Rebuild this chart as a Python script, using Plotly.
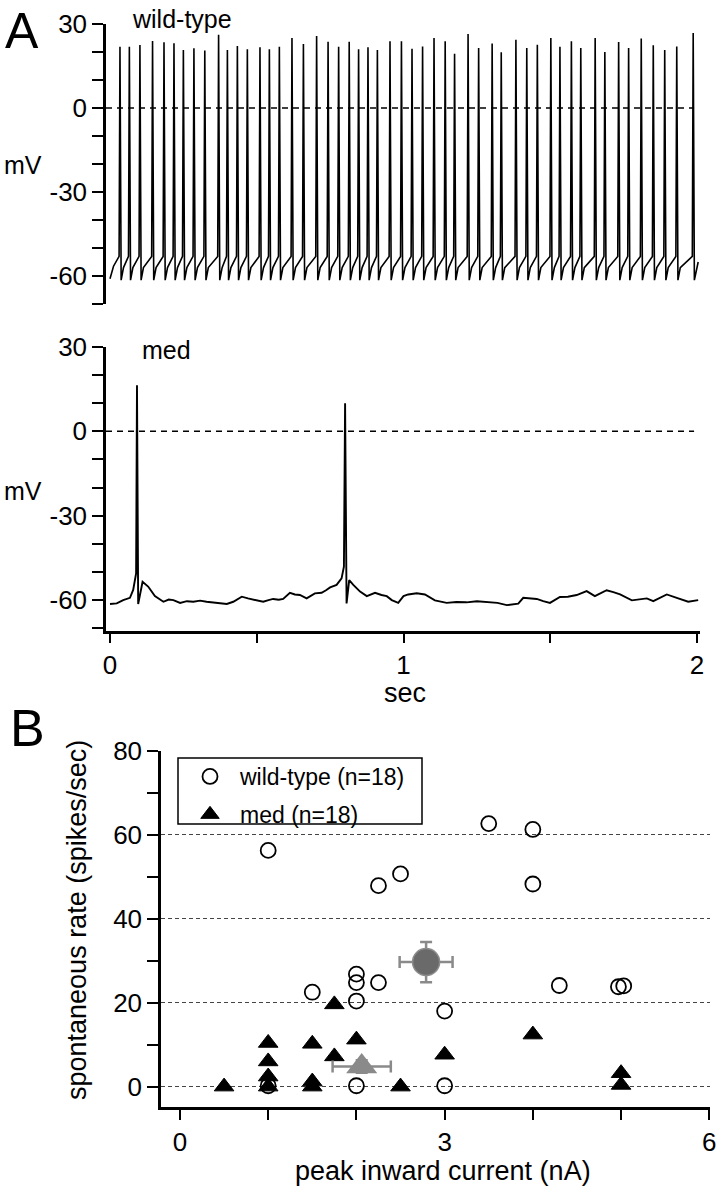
import plotly.graph_objects as go

# ---------------- Panel A: wild-type trace (spike times in s, peak mV) ----------------
wt_spike_t = [0.034, 0.066, 0.102, 0.145, 0.184, 0.218, 0.250, 0.286, 0.323, 0.370,
              0.400, 0.434, 0.468, 0.511, 0.543, 0.577, 0.620, 0.659, 0.704, 0.743,
              0.779, 0.815, 0.847, 0.879, 0.911, 0.954, 0.993, 1.029, 1.065, 1.104,
              1.142, 1.174, 1.220, 1.256, 1.302, 1.333, 1.383, 1.420, 1.456, 1.502,
              1.533, 1.572, 1.604, 1.653, 1.686, 1.733, 1.767, 1.810, 1.851, 1.890,
              1.931, 1.987]
wt_spike_peak = [21.9, 21.9, 22.5, 23.9, 23.5, 23.1, 20.7, 21.3, 20.5, 26.2,
                 20.7, 22.1, 21.0, 21.7, 21.0, 21.9, 25.0, 22.9, 25.7, 23.7,
                 21.9, 23.7, 21.0, 21.7, 20.7, 23.8, 23.8, 21.2, 22.0, 25.0,
                 23.8, 19.4, 26.4, 21.4, 23.0, 19.9, 24.4, 21.4, 22.6, 25.0,
                 21.9, 23.8, 21.4, 25.0, 20.0, 23.6, 21.4, 24.8, 22.4, 20.7,
                 22.0, 26.8]
wt_start = (0.0, -61.0)
wt_end = (2.004, -55.0)
wt_threshold_v = -53.0   # voltage just before a spike
wt_trough_v = -61.5      # after-hyperpolarisation minimum
wt_rebound_v = -57.0     # fast rebound after trough

# ---------------- Panel A: med trace (read point by point) ----------------
med_t = [0.000, 0.023, 0.045, 0.068, 0.079, 0.089, 0.092, 0.096, 0.111, 0.130,
         0.153, 0.182, 0.200, 0.216, 0.239, 0.262, 0.284, 0.307, 0.329, 0.352,
         0.375, 0.398, 0.420, 0.449, 0.470, 0.488, 0.505, 0.522, 0.540, 0.556,
         0.575, 0.590, 0.613, 0.630, 0.647, 0.670, 0.698, 0.721, 0.736, 0.750,
         0.772, 0.789, 0.797, 0.801, 0.806, 0.815, 0.829, 0.852, 0.875, 0.903,
         0.925, 0.943, 0.960, 0.982, 1.000, 1.016, 1.045, 1.073, 1.107, 1.147,
         1.180, 1.215, 1.250, 1.283, 1.320, 1.352, 1.391, 1.408, 1.430, 1.454,
         1.476, 1.499, 1.533, 1.560, 1.590, 1.624, 1.652, 1.672, 1.692, 1.715,
         1.738, 1.778, 1.805, 1.829, 1.851, 1.875, 1.897, 1.931, 1.950, 1.970,
         2.004]
med_v = [-61.4, -61.2, -60.0, -59.2, -56.4, -50.5, 16.4, -61.4, -53.5, -55.2,
         -58.6, -60.6, -59.8, -60.0, -61.0, -60.4, -60.6, -60.2, -60.6, -60.9,
         -61.2, -61.4, -60.6, -58.8, -59.4, -59.8, -60.3, -60.6, -60.0, -59.6,
         -59.9, -59.6, -57.4, -58.0, -58.2, -59.4, -57.6, -57.4, -56.5, -55.5,
         -54.6, -52.3, -48.1, 10.0, -61.2, -52.9, -54.6, -57.0, -58.6, -57.4,
         -58.2, -58.6, -60.0, -61.0, -58.6, -58.0, -57.6, -58.0, -60.1, -61.0,
         -60.7, -60.8, -60.4, -60.6, -61.0, -61.8, -61.3, -59.2, -59.4, -59.6,
         -60.4, -61.0, -58.9, -58.8, -58.2, -56.8, -58.6, -57.6, -56.5, -57.2,
         -58.0, -60.1, -59.6, -59.4, -60.4, -59.0, -58.0, -59.2, -59.8, -60.6,
         -60.0]

# ---------------- Panel B: scatter ----------------
wt_current = [1.0, 3.5, 4.0, 4.0, 2.25, 2.5, 2.0, 2.0, 2.25, 1.5, 2.0, 3.0, 1.0, 2.0, 3.0, 4.3, 4.97, 5.03]
wt_rate = [56.3, 62.7, 61.3, 48.3, 47.9, 50.7, 26.8, 24.8, 24.8, 22.5, 20.4, 18.0, 0.2, 0.2, 0.2, 24.1, 23.8, 24.0]
med_current = [0.5, 1.0, 1.0, 1.0, 1.0, 1.5, 1.5, 1.5, 1.75, 1.75, 2.0, 2.5, 3.0, 4.0, 5.0, 5.0]
med_rate = [0.0, 10.4, 6.0, 2.4, 0.0, 10.2, 1.2, 0.0, 19.6, 7.2, 11.2, 0.0, 7.6, 12.4, 3.2, 0.4]
wt_mean = dict(x=2.79, y=29.7, ex=0.30, ey=4.8)
med_mean = dict(x=2.06, y=4.8, ex=0.33, ey=1.5)

legend_labels = ["wild-type (n=18)", "med (n=18)"]
trace_ticks = [0, 0.5, 1, 1.5, 2]
trace_ticktext = ["0", "", "1", "", "2"]
mv_ticks = [-70, -60, -50, -40, -30, -20, -10, 0, 10, 20, 30]
mv_ticktext = ["", "-60", "", "", "-30", "", "", "0", "", "", "30"]
cur_ticks = [0, 1, 2, 3, 4, 5, 6]
cur_ticktext = ["0", "", "", "3", "", "", "6"]
rate_ticks = [0, 20, 40, 60, 80]
rate_minor = [10, 30, 50, 70]

# build wild-type polyline from spike list
wt_t = [wt_start[0], 0.012]
wt_v = [wt_start[1], -56.5]
for ts, pk in zip(wt_spike_t, wt_spike_peak):
    wt_t += [ts - 0.003, ts, ts + 0.004, ts + 0.012]
    wt_v += [wt_threshold_v, pk, wt_trough_v, wt_rebound_v]
wt_t.append(wt_end[0])
wt_v.append(wt_end[1])

W, H = 719, 1199
def px(x):
    return x / W
def py(y):
    return 1 - y / H

FONT = "Liberation Sans, Arial, Helvetica, sans-serif"
fig = go.Figure()

fig.add_trace(go.Scatter(x=wt_t, y=wt_v, mode="lines", line=dict(color="black", width=1.6),
                         xaxis="x", yaxis="y", showlegend=False, hoverinfo="skip"))
fig.add_trace(go.Scatter(x=med_t, y=med_v, mode="lines", line=dict(color="black", width=1.9),
                         xaxis="x2", yaxis="y2", showlegend=False, hoverinfo="skip"))

fig.add_trace(go.Scatter(x=wt_current, y=wt_rate, mode="markers", name=legend_labels[0],
                         marker=dict(symbol="circle-open", size=15, color="black", line=dict(width=1.8)),
                         xaxis="x3", yaxis="y3", legendgroup="a"))
fig.add_trace(go.Scatter(x=med_current, y=med_rate, mode="markers", name=legend_labels[1],
                         marker=dict(symbol="triangle-up", size=17, color="black",
                                     line=dict(color="black", width=1)),
                         xaxis="x3", yaxis="y3", legendgroup="b"))
fig.add_trace(go.Scatter(x=[wt_mean["x"]], y=[wt_mean["y"]], mode="markers",
                         marker=dict(symbol="circle", size=27, color="#6a6a6a", line=dict(color="#8c8c8c", width=1.5)),
                         error_x=dict(type="constant", value=wt_mean["ex"], color="#8a8a8a", thickness=2.5, width=6),
                         error_y=dict(type="constant", value=wt_mean["ey"], color="#8a8a8a", thickness=2.5, width=6),
                         xaxis="x3", yaxis="y3", showlegend=False))
fig.add_trace(go.Scatter(x=[med_mean["x"]], y=[med_mean["y"]], mode="markers",
                         marker=dict(symbol="triangle-up", size=27, color="#8a8a8a"),
                         error_x=dict(type="constant", value=med_mean["ex"], color="#8a8a8a", thickness=2.5, width=6),
                         error_y=dict(type="constant", value=med_mean["ey"], color="#8a8a8a", thickness=2.5, width=6),
                         xaxis="x3", yaxis="y3", showlegend=False))

axis_common = dict(showline=True, linecolor="black", linewidth=2.5, ticks="outside",
                   tickcolor="black", tickwidth=2, showgrid=False, zeroline=False,
                   automargin=False,
                   tickfont=dict(family=FONT, size=26, color="black"), fixedrange=True)

xdomA = [px(106), px(700)]
xrA = [-0.0136, 2.0102]

fig.update_layout(
    template="none",
    width=W, height=H, margin=dict(l=0, r=0, t=0, b=0, pad=0, autoexpand=False),
    paper_bgcolor="white", plot_bgcolor="white",
    font=dict(family=FONT, color="black"),
    xaxis=dict(domain=xdomA, range=xrA, visible=False, anchor="y", automargin=False),
    yaxis=dict(domain=[py(304), py(24)], range=[-70, 30], anchor="x",
               tickvals=mv_ticks, ticktext=mv_ticktext, ticklen=11, **axis_common),
    xaxis2=dict(domain=xdomA, range=xrA, anchor="y2", tickvals=trace_ticks,
                ticktext=trace_ticktext, ticklen=9, **axis_common),
    yaxis2=dict(domain=[py(631), py(347)], range=[-71, 30], anchor="x2",
                tickvals=mv_ticks, ticktext=mv_ticktext, ticklen=11, **axis_common),
    xaxis3=dict(domain=[px(161), px(710)], range=[-0.215, 6.008], anchor="y3",
                tickvals=cur_ticks, ticktext=cur_ticktext, ticklen=10, **axis_common),
    yaxis3=dict(domain=[py(1107), py(751)], range=[-4.86, 80], anchor="x3",
                tickvals=rate_ticks, ticklen=11,
                minor=dict(tickvals=rate_minor, ticks="outside", ticklen=11, tickwidth=2,
                           tickcolor="black", showgrid=False),
                **{k: v for k, v in axis_common.items() if k != "showgrid"},
                showgrid=True, gridcolor="#444444", gridwidth=1, griddash="4px,3px"),
    legend=dict(x=px(180), y=py(755), xanchor="left", yanchor="top",
                bgcolor="rgba(0,0,0,0)", borderwidth=0,
                font=dict(family=FONT, size=23, color="black"),
                itemwidth=50, traceorder="grouped", tracegroupgap=5),
    showlegend=True,
)

# legend frame
fig.add_shape(type="rect", xref="paper", yref="paper", x0=px(178), x1=px(422), y0=py(824), y1=py(758),
              line=dict(color="black", width=1.5), fillcolor="white", layer="below")

# dashed 0 mV reference lines
for yref, xref in (("y", "x domain"), ("y2", "x2 domain")):
    fig.add_shape(type="line", xref=xref, yref=yref, x0=0, x1=0.99, y0=0, y1=0,
                  line=dict(color="black", width=1.5, dash="6px,5px"), layer="below")

def ann(text, x, y, size, xanchor="center", yanchor="middle", angle=0):
    fig.add_annotation(text=text, x=px(x), y=py(y), xref="paper", yref="paper",
                       showarrow=False, xanchor=xanchor, yanchor=yanchor, textangle=angle,
                       font=dict(family=FONT, size=size, color="black"))

ann("A", 22, 31, 50)
ann("B", 27, 728, 52)
ann("wild-type", 130, 19, 25, xanchor="left")
ann("med", 140, 350, 25, xanchor="left")
ann("mV", 23, 165, 25)
ann("mV", 23, 491, 25)
ann("sec", 405, 693, 27)
ann("peak inward current (nA)", 443, 1171, 27)
ann("spontaneous rate (spikes/sec)", 77, 920, 27, angle=-90)

post = ("document.documentElement.style.margin='0';"
        "document.body.style.margin='0';document.body.style.padding='0';"
        "document.body.style.overflow='hidden';"
        "var d=document.getElementById('{plot_id}');"
        "d.style.position='absolute';d.style.left='0px';d.style.top='0px';")
fig.write_html("out.html", config={"displayModeBar": False}, post_script=post)
